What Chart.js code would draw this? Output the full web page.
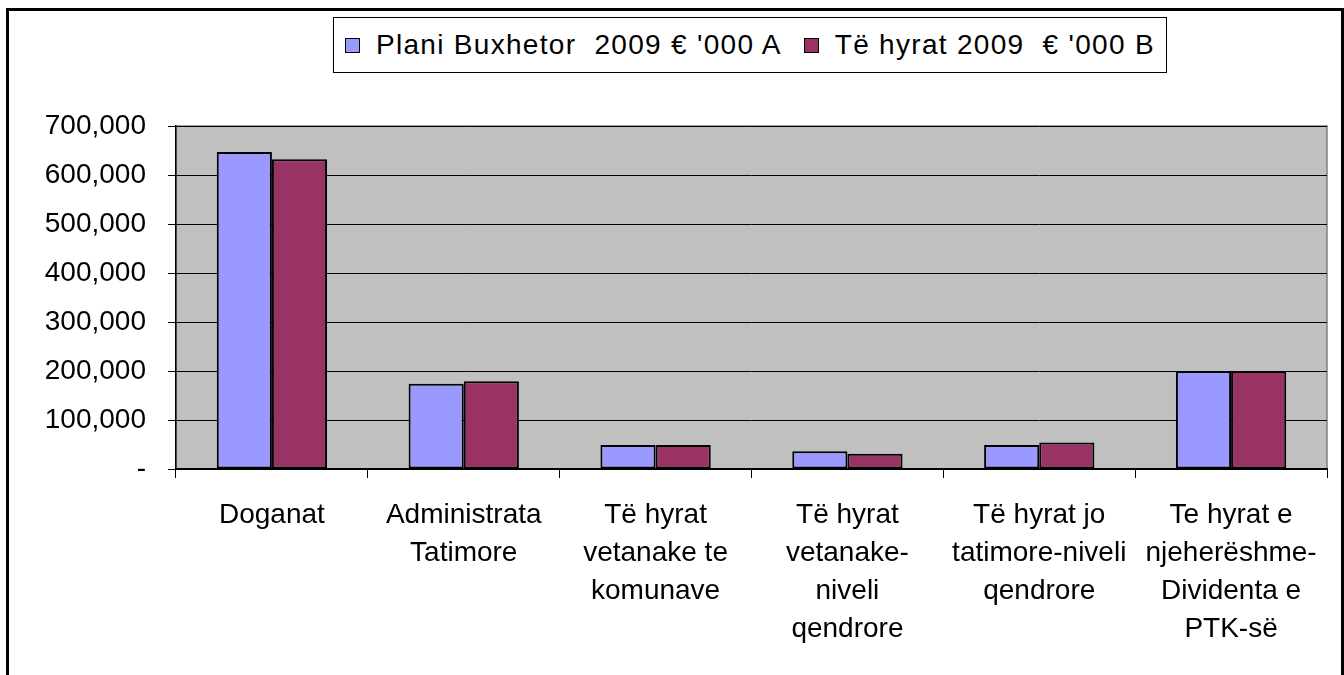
<!DOCTYPE html>
<html lang="sq">
<head>
    <meta charset="UTF-8">
    <title>Plani Buxhetor vs Të hyrat 2009</title>
    <script src="https://cdn.jsdelivr.net/npm/chart.js@4.4.1/dist/chart.umd.min.js"></script>
    <style>
        * {
            margin: 0;
            padding: 0;
            box-sizing: border-box;
        }
        body {
            background: #fff;
            width: 1344px;
            height: 675px;
            overflow: hidden;
            font-family: 'Liberation Sans', Arial, sans-serif;
        }
        .wrap {
            position: relative;
            width: 1344px;
            height: 675px;
        }
        .legend {
            position: absolute;
            left: 333px;
            top: 17px;
            width: 834px;
            height: 56px;
            border: 1.5px solid #000;
            background: #fff;
            display: flex;
            align-items: center;
            padding-left: 11px;
            font-size: 28px;
            letter-spacing: 1.3px;
            color: #000;
            white-space: pre;
        }
        .legend .sq {
            display: inline-block;
            width: 15px;
            height: 15px;
            border: 1.5px solid #000;
            margin-right: 16px;
        }
        .legend .item {
            display: flex;
            align-items: center;
            margin-right: 22px;
        }
    </style>
</head>
<body>
<div class="wrap">
    <canvas id="revChart" width="1344" height="675"></canvas>
    <div class="legend" id="legend"></div>
</div>

<script>
    // data (€'000)
    const categories = [
        ['Doganat'],
        ['Administrata', 'Tatimore'],
        ['Të hyrat', 'vetanake te', 'komunave'],
        ['Të hyrat', 'vetanake-', 'niveli', 'qendrore'],
        ['Të hyrat jo', 'tatimore-niveli', 'qendrore'],
        ['Te hyrat e', 'njeherëshme-', 'Dividenta e', 'PTK-së']
    ];
    const seriesNames = ["Plani Buxhetor  2009 € '000 A", "Të hyrat 2009  € '000 B"];
    const planiValues = [647000, 174000, 49000, 36000, 49000, 200000];
    const hyratValues = [632000, 179000, 49000, 31000, 54000, 200000];
    const yTicks = [0, 100000, 200000, 300000, 400000, 500000, 600000, 700000];

    const colors = ['#9999FF', '#993366'];

    // outer frame + grey plot area
    const framePlugin = {
        id: 'frame',
        beforeDraw(chart) {
            const ctx = chart.ctx;
            const a = chart.chartArea;
            ctx.save();
            ctx.fillStyle = '#fff';
            ctx.fillRect(0, 0, chart.width, chart.height);
            ctx.strokeStyle = '#000';
            ctx.lineWidth = 3;
            ctx.strokeRect(7.5, 9.5, chart.width - 9, chart.height + 20);
            ctx.fillStyle = '#C0C0C0';
            ctx.fillRect(a.left, a.top, a.right - a.left, a.bottom - a.top);
            ctx.strokeStyle = '#808080';
            ctx.lineWidth = 1.5;
            ctx.strokeRect(a.left, a.top, a.right - a.left, a.bottom - a.top);
            ctx.restore();
        }
    };

    const ctx = document.getElementById('revChart').getContext('2d');
    const chart = new Chart(ctx, {
        type: 'bar',
        data: {
            labels: categories,
            datasets: [{
                label: seriesNames[0],
                data: planiValues,
                backgroundColor: colors[0],
                borderColor: '#000',
                borderWidth: 2,
                borderSkipped: false
            }, {
                label: seriesNames[1],
                data: hyratValues,
                backgroundColor: colors[1],
                borderColor: '#000',
                borderWidth: 2,
                borderSkipped: false
            }]
        },
        options: {
            responsive: false,
            animation: false,
            layout: {
                padding: { left: 0, right: 17, top: 126, bottom: 0 }
            },
            datasets: {
                bar: {
                    categoryPercentage: 0.575,
                    barPercentage: 1.0
                }
            },
            scales: {
                x: {
                    afterFit: s => { s.height = 206; },
                    grid: {
                        display: true,
                        offset: true,
                        drawOnChartArea: false,
                        drawTicks: true,
                        tickLength: 9,
                        color: '#000',
                        lineWidth: 1
                    },
                    border: { display: true, color: '#000', width: 1.5 },
                    ticks: {
                        color: '#000',
                        padding: 18,
                        maxRotation: 0,
                        autoSkip: false,
                        font: { family: "'Liberation Sans', Arial, sans-serif", size: 28, lineHeight: 1.36 }
                    }
                },
                y: {
                    min: 0,
                    max: 700000,
                    afterFit: s => { s.width = 176; },
                    afterBuildTicks: s => { s.ticks = yTicks.map(v => ({ value: v })); },
                    grid: {
                        color: '#000',
                        lineWidth: 1,
                        tickLength: 8
                    },
                    border: { display: true, color: '#000', width: 1.5 },
                    ticks: {
                        color: '#000',
                        padding: 22,
                        font: { family: "'Liberation Sans', Arial, sans-serif", size: 28 },
                        callback: v => v === 0 ? '-' : v.toLocaleString('en-US')
                    }
                }
            },
            plugins: {
                legend: { display: false },
                tooltip: { enabled: false }
            }
        },
        plugins: [framePlugin]
    });

    // html legend with a box, like the original
    const legendEl = document.getElementById('legend');
    seriesNames.forEach((name, i) => {
        const item = document.createElement('span');
        item.className = 'item';
        const sq = document.createElement('span');
        sq.className = 'sq';
        sq.style.background = colors[i];
        const txt = document.createElement('span');
        txt.textContent = name;
        item.appendChild(sq);
        item.appendChild(txt);
        legendEl.appendChild(item);
    });
</script>
</body>
</html>
